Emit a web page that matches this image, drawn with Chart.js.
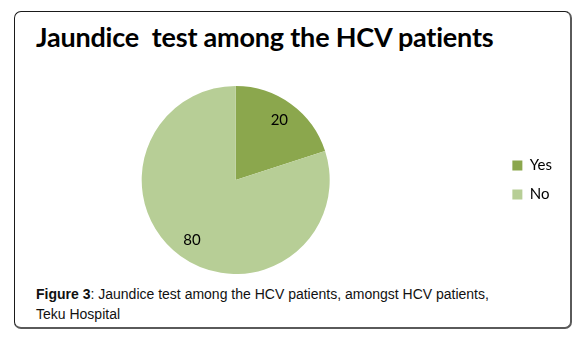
<!DOCTYPE html>
<html>
<head>
<meta charset="utf-8">
<script src="https://cdn.jsdelivr.net/npm/chart.js@4.4.1/dist/chart.umd.min.js"></script>
<style>
  html, body { margin: 0; padding: 0; background: #fff; overflow: hidden; }
  body { width: 587px; height: 340px; position: relative; }
  .frame {
    position: absolute; left: 14px; top: 11px; width: 558px; height: 318px;
    box-sizing: border-box;
    border: 1.5px solid #1a1a1a;
    border-right: 2px solid #5a5a5a; border-bottom: 2px solid #5a5a5a;
    border-radius: 7px;
  }
  .title {
    position: absolute; left: 36px; top: 21px; margin: 0;
    font: bold 27px/32px Lato, sans-serif; color: #000; white-space: pre;
    letter-spacing: -0.2px;
  }
  .caption {
    position: absolute; left: 36px; top: 284px; margin: 0;
    font: 14px/20px "Liberation Sans", Arial, sans-serif; color: #111;
  }
  #chart { position: absolute; left: -27px; top: 86px; }
</style>
</head>
<body>
<div class="frame"></div>
<h1 class="title">Jaundice  test among the HCV patients</h1>
<canvas id="chart" width="589" height="188"></canvas>
<p class="caption"><b>Figure 3</b>: Jaundice test among the HCV patients, amongst HCV patients,<br>Teku Hospital</p>
<script>
// data
const categories = ['Yes', 'No'];
const values = [20, 80];

const sliceColors = ['#8ba74d', '#b7ce96'];

// numbers inside the slices, like Excel's data labels
const sliceLabels = {
  id: 'sliceLabels',
  afterDatasetsDraw(chart) {
    const ctx = chart.ctx;
    const meta = chart.getDatasetMeta(0);
    ctx.save();
    ctx.font = '15px Lato';
    ctx.fillStyle = '#000';
    ctx.textAlign = 'center';
    ctx.textBaseline = 'middle';
    meta.data.forEach((arc, i) => {
      const p = arc.getProps(['x', 'y', 'startAngle', 'endAngle', 'outerRadius']);
      const mid = (p.startAngle + p.endAngle) / 2;
      const r = p.outerRadius * 0.79;
      ctx.fillText(String(values[i]), p.x + Math.cos(mid) * r, p.y + Math.sin(mid) * r);
    });
    ctx.restore();
  }
};

new Chart(document.getElementById('chart'), {
  type: 'pie',
  data: {
    labels: categories,
    datasets: [{
      data: values,
      backgroundColor: sliceColors,
      borderWidth: 0
    }]
  },
  options: {
    responsive: false,
    animation: false,
    devicePixelRatio: 1,
    layout: { padding: 0 },
    plugins: {
      title: { display: false },
      tooltip: { enabled: false },
      legend: {
        position: 'right',
        labels: {
          boxWidth: 10,
          boxHeight: 10,
          padding: 14,
          color: '#000',
          font: { family: 'Lato', size: 15 }
        }
      }
    }
  },
  plugins: [sliceLabels]
});
</script>
</body>
</html>
